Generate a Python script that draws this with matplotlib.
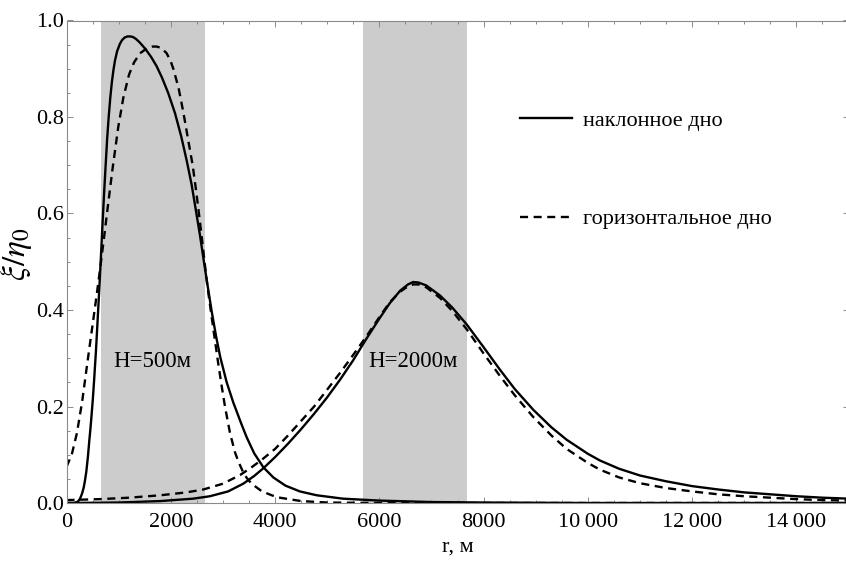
import matplotlib
matplotlib.use("Agg")
import matplotlib.pyplot as plt
from matplotlib.ticker import MultipleLocator, FuncFormatter

plt.rcParams['font.family'] = ['Liberation Serif', 'DejaVu Serif']
plt.rcParams['mathtext.fontset'] = 'stix'
plt.rcParams['lines.scale_dashes'] = False

# Shelf zones (H = 500 m and H = 2000 m), r in metres
band_500 = (660, 2660)
band_2000 = (5680, 7680)

# Sloping bottom, shallow zone
r_slope_500 = [0, 150, 220, 260, 300, 330, 355, 380, 410, 438, 460, 483, 505, 530,
               566, 600, 630, 660, 694, 720, 751, 780, 809, 840, 870, 900, 930,
               970, 1026, 1070, 1120, 1170, 1218, 1270, 1330, 1400, 1506, 1620,
               1730, 1830, 1950, 2081, 2200, 2305, 2400, 2484, 2560, 2625, 2700,
               2785, 2870, 2950, 3073, 3200, 3361, 3457, 3600, 3776, 3967, 4200,
               4476, 4800, 5300, 6000, 7000, 8000, 10000, 15000]
v_slope_500 = [0.0, 0.0, 0.003, 0.009, 0.02, 0.032, 0.047, 0.065, 0.095, 0.13,
               0.155, 0.185, 0.215, 0.255, 0.317, 0.385, 0.445, 0.51, 0.585, 0.64,
               0.70, 0.755, 0.80, 0.84, 0.872, 0.897, 0.917, 0.936, 0.952, 0.96,
               0.965, 0.967, 0.967, 0.966, 0.962, 0.955, 0.942, 0.925, 0.905,
               0.882, 0.85, 0.808, 0.76, 0.71, 0.66, 0.605, 0.555, 0.508, 0.455,
               0.397, 0.345, 0.302, 0.25, 0.208, 0.162, 0.136, 0.103, 0.074,
               0.053, 0.036, 0.024, 0.016, 0.009, 0.005, 0.002, 0.001, 0.0, 0.0]

# Horizontal bottom, shallow zone
r_flat_500 = [0, 100, 200, 300, 387, 450, 514, 580, 650, 720, 790, 886, 994, 1090,
              1200, 1295, 1410, 1550, 1650, 1730, 1820, 1922, 2000, 2049, 2150,
              2241, 2330, 2420, 2480, 2529, 2590, 2638, 2700, 2785, 2850, 2912,
              2980, 3040, 3136, 3232, 3300, 3380, 3457, 3550, 3750, 4032, 4500,
              5000, 6000, 15000]
v_flat_500 = [0.075, 0.1, 0.145, 0.21, 0.28, 0.33, 0.38, 0.432, 0.49, 0.55,
              0.612, 0.695, 0.78, 0.84, 0.888, 0.913, 0.932, 0.943, 0.946, 0.946,
              0.943, 0.932, 0.915, 0.90, 0.86, 0.81, 0.755, 0.70, 0.652, 0.61,
              0.555, 0.51, 0.452, 0.385, 0.335, 0.288, 0.24, 0.20, 0.145, 0.105,
              0.085, 0.066, 0.052, 0.04, 0.024, 0.012, 0.004, 0.001, 0.0, 0.0]

# Sloping bottom, deep zone
r_slope_2000 = [0, 1000, 1800, 2430, 2750, 3100, 3390, 3600, 3776, 4000, 4250,
                4500, 4750, 5000, 5250, 5500, 5750, 6000, 6200, 6400, 6550, 6650,
                6750, 6900, 7165, 7400, 7677, 8000, 8316, 8600, 8955, 9300, 9595,
                10000, 10234, 10600, 11000, 11500, 12000, 12500, 13000, 13500,
                14000, 14500, 15000]
v_slope_2000 = [0.0, 0.001, 0.004, 0.009, 0.014, 0.024, 0.04, 0.056, 0.072,
                0.095, 0.123, 0.153, 0.185, 0.219, 0.256, 0.296, 0.34, 0.382,
                0.414, 0.44, 0.453, 0.458, 0.457, 0.451, 0.43, 0.405, 0.37, 0.323,
                0.276, 0.236, 0.193, 0.157, 0.131, 0.102, 0.088, 0.071, 0.057,
                0.045, 0.035, 0.028, 0.022, 0.018, 0.014, 0.011, 0.009]

# Horizontal bottom, deep zone
r_flat_2000 = [0, 640, 1200, 1800, 2300, 2625, 3000, 3330, 3550, 3750, 4000, 4250,
               4500, 4750, 5000, 5250, 5500, 5750, 6000, 6200, 6400, 6550, 6650,
               6750, 6900, 7165, 7400, 7677, 8000, 8316, 8600, 8955, 9300, 9595,
               10000, 10234, 10600, 11000, 11500, 12000, 12500, 13000, 13500,
               14000, 14500, 15000]
v_flat_2000 = [0.006, 0.008, 0.011, 0.016, 0.022, 0.028, 0.04, 0.058, 0.074,
               0.09, 0.112, 0.14, 0.17, 0.2, 0.235, 0.27, 0.307, 0.345, 0.385,
               0.416, 0.438, 0.449, 0.453, 0.453, 0.447, 0.425, 0.398, 0.36, 0.31,
               0.263, 0.223, 0.178, 0.14, 0.112, 0.083, 0.069, 0.053, 0.041,
               0.031, 0.024, 0.018, 0.014, 0.011, 0.008, 0.006, 0.005]

label_slope = 'наклонное дно'
label_flat = 'горизонтальное дно'
zone_labels = ['H=500м', 'H=2000м']
zone_label_pos = [(1650, 0.294), (6653, 0.294)]

fig = plt.figure(figsize=(8.46, 5.61), dpi=100)
ax = fig.add_axes([66.5 / 846, 58 / 561, 782 / 846, 482.5 / 561])

ax.axvspan(*band_500, color='#cccccc', lw=0, zorder=0)
ax.axvspan(*band_2000, color='#cccccc', lw=0, zorder=0)

lw = 1.7
dash = (0, (5.8, 4.0))
l1, = ax.plot(r_slope_500, v_slope_500, color='black', lw=lw,
              solid_joinstyle='round', label=label_slope)
ax.plot(r_slope_2000, v_slope_2000, color='black', lw=lw, solid_joinstyle='round')
l2, = ax.plot(r_flat_500, v_flat_500, color='black', lw=lw, linestyle=dash,
              label=label_flat)
ax.plot(r_flat_2000, v_flat_2000, color='black', lw=lw, linestyle=dash)

for txt, (xr, yv) in zip(zone_labels, zone_label_pos):
    ax.text(xr, yv, txt, ha='center', va='center', fontsize=16.5)

ax.set_xlim(0, 15000)
ax.set_ylim(0, 1.0)
ax.xaxis.set_major_locator(MultipleLocator(2000))
ax.xaxis.set_minor_locator(MultipleLocator(500))
ax.yaxis.set_major_locator(MultipleLocator(0.2))
ax.yaxis.set_minor_locator(MultipleLocator(0.05))


def thousands(x, pos):
    n = int(round(x))
    if n >= 10000:
        return f"{n // 1000}\u2009{n % 1000:03d}"
    return str(n)


ax.xaxis.set_major_formatter(FuncFormatter(thousands))
ax.yaxis.set_major_formatter(FuncFormatter(lambda y, p: f"{y:.1f}"))

for s in ax.spines.values():
    s.set_color('#8a8a8a')
    s.set_linewidth(0.8)
ax.tick_params(which='both', direction='in', top=True, right=True,
               color='#8a8a8a', width=0.7, labelsize=16)
ax.tick_params(which='major', length=4)
ax.tick_params(which='minor', length=2.5)
ax.tick_params(axis='x', pad=7)
ax.tick_params(axis='y', pad=2)

ax.set_xlabel('r, м', fontsize=16, labelpad=4)
ax.set_ylabel(r'$\xi/\eta_0$', fontsize=24)
ax.yaxis.set_label_coords(-0.042, 0.515)

ax.legend(handles=[l1, l2], loc='center left',
          bbox_to_anchor=((520 - 66.5) / 782, (503 - 170) / 482.5),
          frameon=False, fontsize=16, handlelength=2.35, handletextpad=0.5,
          labelspacing=3.5, borderpad=0, borderaxespad=0)

fig.savefig('out.png', dpi=100)
